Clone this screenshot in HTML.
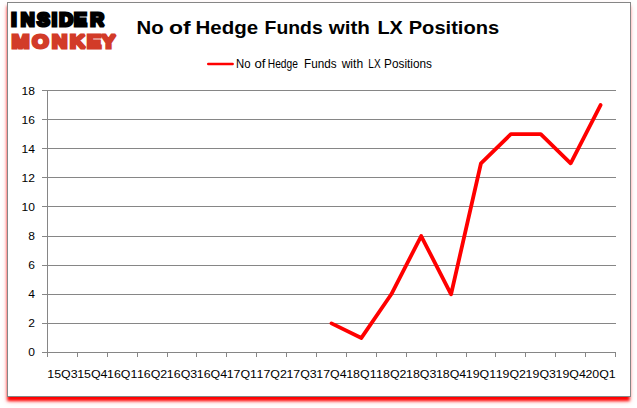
<!DOCTYPE html>
<html><head><meta charset="utf-8"><title>No of Hedge Funds with LX Positions</title>
<style>
html,body{margin:0;padding:0;background:#fff;}
body{width:637px;height:408px;position:relative;overflow:hidden;font-family:"Liberation Sans",sans-serif;}
svg{position:absolute;left:0;top:0;}
.g{stroke:#868686;stroke-width:1;shape-rendering:crispEdges;}
.t{font-family:"Liberation Sans",sans-serif;font-size:11.4px;fill:#000;}
.title{font-family:"Liberation Sans",sans-serif;font-weight:bold;font-size:19.2px;fill:#000;}
.logo{font-family:"Liberation Sans",sans-serif;font-weight:bold;}
</style></head><body>
<svg width="637" height="408" viewBox="0 0 637 408">
<defs>
<filter id="b1" x="-5%" y="-5%" width="110%" height="110%"><feGaussianBlur stdDeviation="1.5"/></filter>
<filter id="b2" x="-5%" y="-5%" width="110%" height="110%"><feGaussianBlur stdDeviation="3"/></filter>
</defs>
<rect x="7.3" y="6" width="622.4" height="395" fill="#ff0000" fill-opacity="0.25" filter="url(#b2)"/>
<rect x="7.3" y="6" width="622.4" height="395" fill="#ff0000" filter="url(#b1)"/>
<rect x="7.5" y="2.5" width="623" height="394" fill="#ffffff" stroke="#868686" stroke-width="1" shape-rendering="crispEdges"/>
<text transform="translate(0,0)" x="11.23 20.77 36.89 51.83 59.18 74.03 90.33" y="26" class="logo" font-size="19.2" fill="#000" stroke="#000" stroke-width="3.0" stroke-linejoin="miter" stroke-miterlimit="2">INSIDER</text>
<text transform="translate(0,0) scale(1.1,1)" x="10.69 29.31 47.30 63.57 79.01 92.27" y="48" class="logo" font-size="19.2" fill="#d23b28" stroke="#d23b28" stroke-width="3.0" stroke-linejoin="miter" stroke-miterlimit="2">MONKEY</text>
<text y="34.1" class="title"><tspan x="136.5" textLength="27.1" lengthAdjust="spacingAndGlyphs">No</tspan> <tspan x="168.9" textLength="21.7" lengthAdjust="spacingAndGlyphs">of</tspan> <tspan x="195.5" textLength="62.6" lengthAdjust="spacingAndGlyphs">Hedge</tspan> <tspan x="264.6" textLength="58.1" lengthAdjust="spacingAndGlyphs">Funds</tspan> <tspan x="328.7" textLength="41.3" lengthAdjust="spacingAndGlyphs">with</tspan> <tspan x="377.4" textLength="25.4" lengthAdjust="spacingAndGlyphs">LX</tspan> <tspan x="408.7" textLength="90.5" lengthAdjust="spacingAndGlyphs">Positions</tspan></text>
<line x1="208.2" y1="64" x2="232.7" y2="64" stroke="#ff0000" stroke-width="2.4" stroke-linecap="round"/>
<text y="68.3" class="t" style="font-size:12.4px"><tspan x="236.1" textLength="14.5" lengthAdjust="spacingAndGlyphs">No</tspan> <tspan x="254.5" textLength="11.0" lengthAdjust="spacingAndGlyphs">of</tspan> <tspan x="267.8" textLength="30.1" lengthAdjust="spacingAndGlyphs">Hedge</tspan> <tspan x="304.0" textLength="32.5" lengthAdjust="spacingAndGlyphs">Funds</tspan> <tspan x="341.7" textLength="21.4" lengthAdjust="spacingAndGlyphs">with</tspan> <tspan x="368.3" textLength="12.3" lengthAdjust="spacingAndGlyphs">LX</tspan> <tspan x="384.1" textLength="47.8" lengthAdjust="spacingAndGlyphs">Positions</tspan></text>
<line x1="42.0" y1="352.5" x2="615.5" y2="352.5" class="g"/>
<text x="34.9" y="356.0" class="t" text-anchor="end" textLength="6.7" lengthAdjust="spacingAndGlyphs">0</text>
<line x1="42.0" y1="323.5" x2="615.5" y2="323.5" class="g"/>
<text x="34.9" y="327.0" class="t" text-anchor="end" textLength="6.7" lengthAdjust="spacingAndGlyphs">2</text>
<line x1="42.0" y1="294.5" x2="615.5" y2="294.5" class="g"/>
<text x="34.9" y="298.0" class="t" text-anchor="end" textLength="6.7" lengthAdjust="spacingAndGlyphs">4</text>
<line x1="42.0" y1="265.5" x2="615.5" y2="265.5" class="g"/>
<text x="34.9" y="269.0" class="t" text-anchor="end" textLength="6.7" lengthAdjust="spacingAndGlyphs">6</text>
<line x1="42.0" y1="236.5" x2="615.5" y2="236.5" class="g"/>
<text x="34.9" y="240.0" class="t" text-anchor="end" textLength="6.7" lengthAdjust="spacingAndGlyphs">8</text>
<line x1="42.0" y1="206.5" x2="615.5" y2="206.5" class="g"/>
<text x="34.9" y="211.0" class="t" text-anchor="end" textLength="13.4" lengthAdjust="spacingAndGlyphs">10</text>
<line x1="42.0" y1="177.5" x2="615.5" y2="177.5" class="g"/>
<text x="34.9" y="182.0" class="t" text-anchor="end" textLength="13.4" lengthAdjust="spacingAndGlyphs">12</text>
<line x1="42.0" y1="148.5" x2="615.5" y2="148.5" class="g"/>
<text x="34.9" y="153.0" class="t" text-anchor="end" textLength="13.4" lengthAdjust="spacingAndGlyphs">14</text>
<line x1="42.0" y1="119.5" x2="615.5" y2="119.5" class="g"/>
<text x="34.9" y="124.0" class="t" text-anchor="end" textLength="13.4" lengthAdjust="spacingAndGlyphs">16</text>
<line x1="42.0" y1="90.5" x2="615.5" y2="90.5" class="g"/>
<text x="34.9" y="95.0" class="t" text-anchor="end" textLength="13.4" lengthAdjust="spacingAndGlyphs">18</text>
<line x1="47.5" y1="90.0" x2="47.5" y2="353.0" class="g"/>
<line x1="47.5" y1="352.5" x2="47.5" y2="357.0" class="g"/>
<line x1="77.5" y1="352.5" x2="77.5" y2="357.0" class="g"/>
<line x1="107.5" y1="352.5" x2="107.5" y2="357.0" class="g"/>
<line x1="137.5" y1="352.5" x2="137.5" y2="357.0" class="g"/>
<line x1="167.5" y1="352.5" x2="167.5" y2="357.0" class="g"/>
<line x1="196.5" y1="352.5" x2="196.5" y2="357.0" class="g"/>
<line x1="226.5" y1="352.5" x2="226.5" y2="357.0" class="g"/>
<line x1="256.5" y1="352.5" x2="256.5" y2="357.0" class="g"/>
<line x1="286.5" y1="352.5" x2="286.5" y2="357.0" class="g"/>
<line x1="316.5" y1="352.5" x2="316.5" y2="357.0" class="g"/>
<line x1="346.5" y1="352.5" x2="346.5" y2="357.0" class="g"/>
<line x1="376.5" y1="352.5" x2="376.5" y2="357.0" class="g"/>
<line x1="406.5" y1="352.5" x2="406.5" y2="357.0" class="g"/>
<line x1="436.5" y1="352.5" x2="436.5" y2="357.0" class="g"/>
<line x1="466.5" y1="352.5" x2="466.5" y2="357.0" class="g"/>
<line x1="495.5" y1="352.5" x2="495.5" y2="357.0" class="g"/>
<line x1="525.5" y1="352.5" x2="525.5" y2="357.0" class="g"/>
<line x1="555.5" y1="352.5" x2="555.5" y2="357.0" class="g"/>
<line x1="585.5" y1="352.5" x2="585.5" y2="357.0" class="g"/>
<line x1="615.5" y1="352.5" x2="615.5" y2="357.0" class="g"/>
<text x="62.45" y="377.6" class="t" text-anchor="middle" textLength="30.3" lengthAdjust="spacingAndGlyphs">15Q3</text>
<text x="92.34" y="377.6" class="t" text-anchor="middle" textLength="30.3" lengthAdjust="spacingAndGlyphs">15Q4</text>
<text x="122.24" y="377.6" class="t" text-anchor="middle" textLength="30.3" lengthAdjust="spacingAndGlyphs">16Q1</text>
<text x="152.13" y="377.6" class="t" text-anchor="middle" textLength="30.3" lengthAdjust="spacingAndGlyphs">16Q2</text>
<text x="182.03" y="377.6" class="t" text-anchor="middle" textLength="30.3" lengthAdjust="spacingAndGlyphs">16Q3</text>
<text x="211.92" y="377.6" class="t" text-anchor="middle" textLength="30.3" lengthAdjust="spacingAndGlyphs">16Q4</text>
<text x="241.82" y="377.6" class="t" text-anchor="middle" textLength="30.3" lengthAdjust="spacingAndGlyphs">17Q1</text>
<text x="271.71" y="377.6" class="t" text-anchor="middle" textLength="30.3" lengthAdjust="spacingAndGlyphs">17Q2</text>
<text x="301.61" y="377.6" class="t" text-anchor="middle" textLength="30.3" lengthAdjust="spacingAndGlyphs">17Q3</text>
<text x="331.50" y="377.6" class="t" text-anchor="middle" textLength="30.3" lengthAdjust="spacingAndGlyphs">17Q4</text>
<text x="361.39" y="377.6" class="t" text-anchor="middle" textLength="30.3" lengthAdjust="spacingAndGlyphs">18Q1</text>
<text x="391.29" y="377.6" class="t" text-anchor="middle" textLength="30.3" lengthAdjust="spacingAndGlyphs">18Q2</text>
<text x="421.18" y="377.6" class="t" text-anchor="middle" textLength="30.3" lengthAdjust="spacingAndGlyphs">18Q3</text>
<text x="451.08" y="377.6" class="t" text-anchor="middle" textLength="30.3" lengthAdjust="spacingAndGlyphs">18Q4</text>
<text x="480.97" y="377.6" class="t" text-anchor="middle" textLength="30.3" lengthAdjust="spacingAndGlyphs">19Q1</text>
<text x="510.87" y="377.6" class="t" text-anchor="middle" textLength="30.3" lengthAdjust="spacingAndGlyphs">19Q2</text>
<text x="540.76" y="377.6" class="t" text-anchor="middle" textLength="30.3" lengthAdjust="spacingAndGlyphs">19Q3</text>
<text x="570.66" y="377.6" class="t" text-anchor="middle" textLength="30.3" lengthAdjust="spacingAndGlyphs">19Q4</text>
<text x="600.55" y="377.6" class="t" text-anchor="middle" textLength="30.3" lengthAdjust="spacingAndGlyphs">20Q1</text>
<polyline points="331.50,323.39 361.39,337.94 391.29,294.28 421.18,236.06 451.08,294.28 480.97,163.28 510.87,134.17 540.76,134.17 570.66,163.28 600.55,105.06" fill="none" stroke="#ff0000" stroke-width="3.8" stroke-linejoin="round" stroke-linecap="round"/>
</svg>
</body></html>
